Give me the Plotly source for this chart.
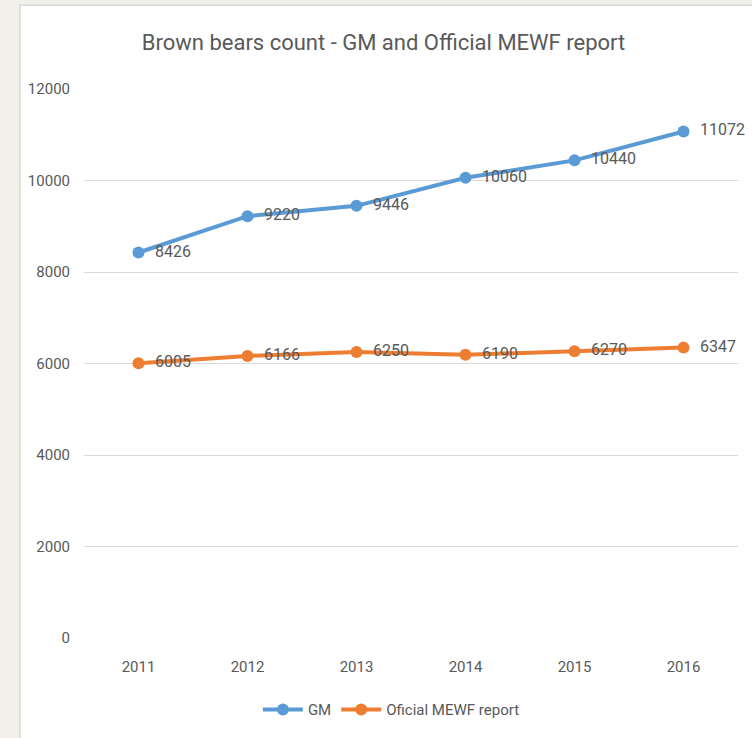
import plotly.graph_objects as go

years = ["2011", "2012", "2013", "2014", "2015", "2016"]
gm = [8426, 9220, 9446, 10060, 10440, 11072]
official = [6005, 6166, 6250, 6190, 6270, 6347]
y_ticks = [0, 2000, 4000, 6000, 8000, 10000, 12000]

FONT = "Roboto, Open Sans, sans-serif"
TXT = "#595959"

W, H = 752, 738
L, R, T, B = 84, 14, 89, 98
pw, ph = W - L - R, H - T - B

def px(x):
    return (x - L) / pw

def py(y):
    return (H - B - y) / ph

fig = go.Figure()
fig.add_trace(go.Scatter(
    x=years, y=gm, name="GM", mode="lines+markers+text",
    line=dict(color="#5B9BD5", width=4), marker=dict(size=12, color="#5B9BD5"),
    text=["  " + str(v) for v in gm], textposition="middle right",
    textfont=dict(family=FONT, size=16, color=TXT), cliponaxis=False,
))
fig.add_trace(go.Scatter(
    x=years, y=official, name="Oficial MEWF report", mode="lines+markers+text",
    line=dict(color="#ED7D31", width=4), marker=dict(size=12, color="#ED7D31"),
    text=["  " + str(v) for v in official], textposition="middle right",
    textfont=dict(family=FONT, size=16, color=TXT), cliponaxis=False,
))

fig.update_layout(
    width=W, height=H,
    margin=dict(l=L, r=R, t=T, b=B),
    paper_bgcolor="#F1F0E9",
    plot_bgcolor="rgba(0,0,0,0)",
    title=dict(text="Brown bears count - GM and Official MEWF report",
               x=0.51, xanchor="center", y=1 - 42 / H, yanchor="middle",
               font=dict(family=FONT, size=22, color=TXT)),
    font=dict(family=FONT, color=TXT, size=15),
    xaxis=dict(type="category", range=[-0.5, 5.5], showgrid=False, zeroline=False,
               showline=False, ticks="", tickfont=dict(size=15, color=TXT),
               ticklabelstandoff=18),
    yaxis=dict(range=[0, 12000], tickvals=y_ticks, ticktext=[str(v) for v in y_ticks],
               showgrid=True, gridcolor="#D9D9D9",
               gridwidth=1.3, zeroline=False, showline=False, ticks="",
               tickfont=dict(size=15, color=TXT), ticklabelstandoff=13),
    legend=dict(orientation="h", x=0.47, xanchor="center", y=py(712), yanchor="middle",
                font=dict(size=15, color=TXT), bgcolor="rgba(0,0,0,0)",
                itemwidth=40, tracegroupgap=0),
    showlegend=True,
    shapes=[
        dict(type="rect", xref="paper", yref="paper", layer="below",
             x0=px(20), x1=px(W + 5), y0=py(H + 5), y1=py(5),
             fillcolor="white", line=dict(color="#D8D8DC", width=1.5)),
    ],
)

fig.write_html("out.html")
